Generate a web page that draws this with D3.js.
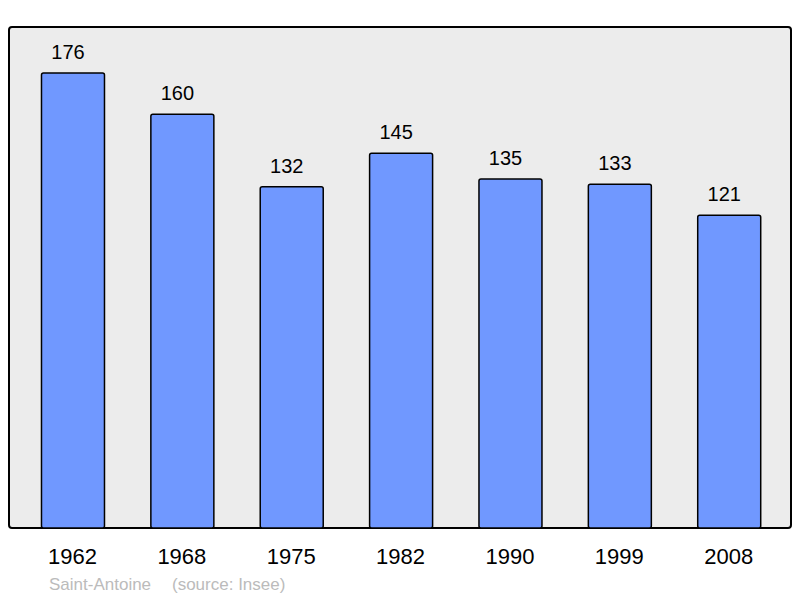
<!DOCTYPE html>
<html><head><meta charset="utf-8">
<script src="https://cdn.jsdelivr.net/npm/d3@7"></script>
<style>body{margin:0;background:#fff}svg{display:block}</style>
</head><body>
<script>
const years = ["1962","1968","1975","1982","1990","1999","2008"];
const population = [176,160,132,145,135,133,121];
const placeName = "Saint-Antoine";
const sourceText = "(source: Insee)";

const W = 800, H = 598;
const svg = d3.select("body").append("svg").attr("width", W).attr("height", H);
const font = "'Liberation Sans', Arial, sans-serif";

svg.append("rect").attr("x", 9).attr("y", 27).attr("width", 782).attr("height", 501)
  .attr("rx", 3).attr("fill", "#ececec").attr("stroke", "#000").attr("stroke-width", 2);

const x = d3.scaleBand().domain(years).range([18.3, 783.9]).paddingInner(0.424).paddingOuter(0.212);
const y = d3.scaleLinear().domain([0, 176]).range([528, 73]);

const data = years.map((yr, i) => ({ yr, v: population[i] }));

svg.selectAll("rect.bar").data(data).enter().append("rect").attr("class", "bar")
  .attr("x", d => x(d.yr)).attr("y", d => y(d.v))
  .attr("width", x.bandwidth()).attr("height", d => y(0) - y(d.v))
  .attr("rx", 2).attr("fill", "#7098ff").attr("stroke", "#000").attr("stroke-width", 1.5);

svg.selectAll("text.val").data(data).enter().append("text").attr("class", "val")
  .attr("x", d => x(d.yr) + x.bandwidth() / 2 - 5).attr("y", d => y(d.v) - 14)
  .attr("text-anchor", "middle").attr("font-family", font).attr("font-size", 20)
  .attr("fill", "#000").text(d => d.v);

svg.selectAll("text.yr").data(data).enter().append("text").attr("class", "yr")
  .attr("x", d => x(d.yr) + x.bandwidth() / 2 - 0.5).attr("y", 564)
  .attr("text-anchor", "middle").attr("font-family", font).attr("font-size", 22)
  .attr("fill", "#000").text(d => d.yr);

svg.append("text").attr("x", 49).attr("y", 590).attr("font-family", font).attr("font-size", 17)
  .attr("fill", "#bbbbbb").text(placeName);
svg.append("text").attr("x", 172).attr("y", 590).attr("font-family", font).attr("font-size", 17)
  .attr("fill", "#bbbbbb").text(sourceText);
</script>
</body></html>
